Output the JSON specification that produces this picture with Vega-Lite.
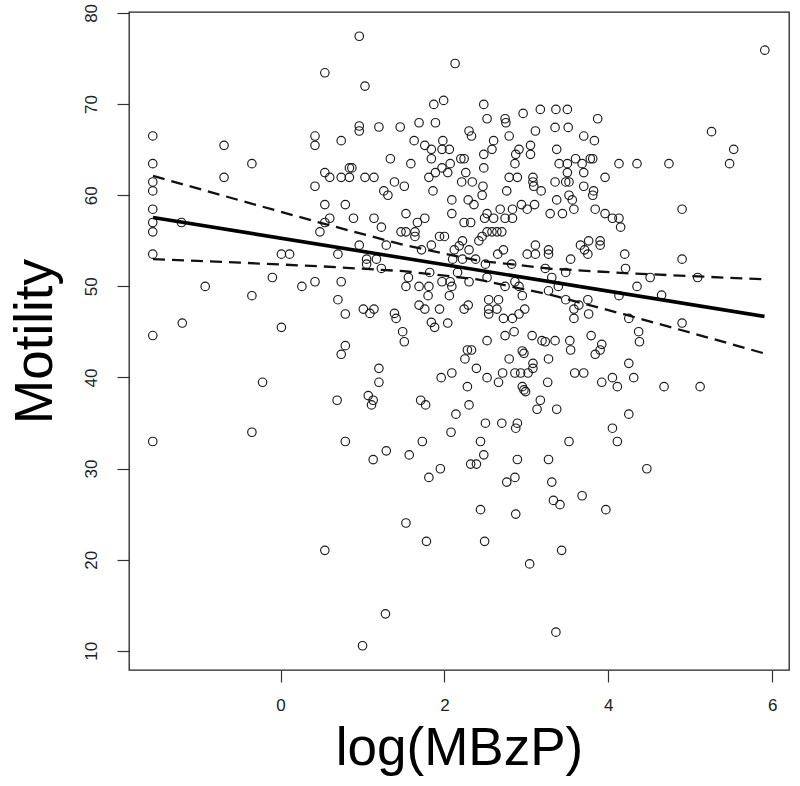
{
  "$schema": "https://vega.github.io/schema/vega-lite/v6.json",
  "width": 660,
  "height": 658,
  "autosize": {"type": "none"},
  "padding": {"left": 129, "top": 12, "right": 11, "bottom": 116},
  "background": "white",
  "config": {
    "view": {"stroke": "#222", "strokeWidth": 1.3},
    "font": "Liberation Sans",
    "axis": {"grid": false, "domain": false, "tickSize": 12, "tickColor": "#333", "tickWidth": 1.2, "labelFont": "Liberation Sans", "labelFontSize": 17, "labelColor": "#222", "titleFont": "Liberation Sans", "titleFontWeight": "normal", "titleColor": "#000"}
  },
  "datasets": {
    "pts": [
{"x":-1.56,"y":66.5},{"x":-1.56,"y":63.46},{"x":-1.56,"y":61.45},{"x":-1.56,"y":60.47},{"x":-1.56,"y":58.46},{"x":-1.56,"y":57.0},{"x":-1.56,"y":55.98},{"x":-1.56,"y":53.53},{"x":-1.56,"y":44.6},
{"x":0.96,"y":77.44},{"x":0.54,"y":73.43},{"x":1.03,"y":71.97},{"x":2.13,"y":74.45},{"x":1.87,"y":69.96},{"x":1.99,"y":70.4},{"x":-0.69,"y":65.47},{"x":-0.35,"y":63.46},{"x":-0.69,"y":61.96},
{"x":0.42,"y":66.49},{"x":0.42,"y":65.47},{"x":0.74,"y":65.98},{"x":0.96,"y":67.59},{"x":0.96,"y":67.04},{"x":1.2,"y":67.48},{"x":1.46,"y":67.48},{"x":1.69,"y":67.95},{"x":1.89,"y":67.95},
{"x":1.63,"y":65.98},{"x":1.76,"y":65.47},{"x":1.84,"y":65.03},{"x":1.97,"y":65.03},{"x":2.06,"y":65.03},{"x":1.84,"y":64.0},{"x":1.98,"y":65.98},{"x":1.34,"y":64.0},{"x":1.59,"y":63.46},
{"x":2.07,"y":63.46},{"x":1.97,"y":62.99},{"x":1.89,"y":62.48},{"x":2.04,"y":62.48},{"x":1.81,"y":61.96},{"x":0.84,"y":62.99},{"x":0.87,"y":62.99},{"x":0.54,"y":62.48},{"x":0.6,"y":61.96},
{"x":0.74,"y":61.96},{"x":0.84,"y":61.96},{"x":1.03,"y":61.96},{"x":1.14,"y":61.96},{"x":1.39,"y":61.45},{"x":1.51,"y":60.98},{"x":0.42,"y":60.98},{"x":1.26,"y":60.47},{"x":1.31,"y":59.99},
{"x":1.86,"y":60.47},{"x":2.09,"y":59.48},{"x":2.09,"y":57.98},{"x":0.54,"y":58.97},{"x":0.79,"y":58.97},{"x":1.53,"y":57.98},{"x":0.6,"y":57.47},{"x":0.89,"y":57.47},{"x":1.14,"y":57.47},
{"x":1.76,"y":57.47},{"x":0.54,"y":57.0},{"x":1.23,"y":56.49},{"x":1.67,"y":57.0},{"x":0.48,"y":55.98},{"x":1.47,"y":55.98},{"x":1.53,"y":55.98},{"x":1.64,"y":55.98},{"x":1.64,"y":55.47},
{"x":1.94,"y":55.47},{"x":2.0,"y":55.47},{"x":-1.21,"y":57.0},{"x":0.96,"y":54.52},{"x":1.29,"y":54.52},{"x":1.84,"y":54.52},{"x":1.72,"y":54.0},{"x":2.12,"y":54.0},{"x":0.01,"y":53.53},
{"x":0.11,"y":53.53},{"x":0.7,"y":53.53},{"x":1.05,"y":52.98},{"x":1.17,"y":52.98},{"x":1.05,"y":52.43},{"x":1.23,"y":51.96},{"x":2.1,"y":52.98},{"x":1.82,"y":51.52},{"x":-0.1,"y":50.97},
{"x":-0.92,"y":49.99},{"x":-0.35,"y":48.97},{"x":0.26,"y":49.99},{"x":0.42,"y":50.5},{"x":0.74,"y":50.5},{"x":1.56,"y":50.97},{"x":1.53,"y":49.99},{"x":1.69,"y":49.99},{"x":1.81,"y":49.99},
{"x":1.97,"y":50.5},{"x":2.07,"y":50.5},{"x":2.09,"y":49.99},{"x":2.06,"y":48.97},{"x":1.8,"y":48.97},{"x":0.7,"y":48.53},{"x":1.69,"y":47.94},{"x":1.76,"y":47.5},{"x":1.94,"y":47.5},
{"x":1.01,"y":47.5},{"x":1.14,"y":47.5},{"x":1.09,"y":47.03},{"x":0.79,"y":46.96},{"x":1.39,"y":47.03},{"x":1.41,"y":46.48},{"x":1.84,"y":46.05},{"x":1.88,"y":45.5},{"x":2.04,"y":45.97},
{"x":-1.2,"y":45.97},{"x":0.01,"y":45.5},{"x":1.49,"y":45.02},
{"x":0.79,"y":43.49},{"x":0.74,"y":42.54},{"x":1.51,"y":43.92},{"x":1.2,"y":41.0},{"x":1.2,"y":39.47},{"x":-0.22,"y":39.47},{"x":0.69,"y":37.5},{"x":1.07,"y":38.01},{"x":1.13,"y":37.5},
{"x":1.11,"y":36.99},{"x":1.71,"y":37.5},{"x":1.77,"y":36.99},{"x":1.96,"y":39.98},{"x":2.09,"y":40.49},{"x":2.14,"y":35.97},{"x":2.08,"y":33.99},{"x":-0.35,"y":33.99},{"x":-1.56,"y":32.97},
{"x":0.79,"y":32.97},{"x":1.29,"y":31.95},{"x":1.13,"y":30.99},{"x":1.57,"y":31.5},{"x":1.73,"y":32.97},{"x":1.95,"y":29.98},{"x":1.81,"y":29.03},{"x":1.53,"y":24.03},{"x":1.78,"y":22.02},
{"x":0.54,"y":21.03},{"x":1.28,"y":14.06},{"x":1.0,"y":10.56},
{"x":5.91,"y":75.91},{"x":2.48,"y":69.96},{"x":2.52,"y":68.39},{"x":2.74,"y":68.39},{"x":2.75,"y":67.95},{"x":2.96,"y":68.97},{"x":3.17,"y":69.41},{"x":3.36,"y":69.41},{"x":3.5,"y":69.41},
{"x":3.87,"y":68.39},{"x":3.35,"y":67.44},{"x":3.51,"y":67.44},{"x":2.3,"y":67.04},{"x":2.33,"y":66.49},{"x":3.11,"y":67.04},{"x":2.79,"y":66.49},{"x":2.6,"y":65.98},{"x":2.58,"y":65.03},
{"x":3.05,"y":65.47},{"x":3.7,"y":66.49},{"x":3.83,"y":65.98},{"x":3.37,"y":65.03},{"x":2.91,"y":65.03},{"x":2.87,"y":64.48},{"x":3.05,"y":64.48},{"x":2.48,"y":64.48},{"x":2.2,"y":64.0},
{"x":2.24,"y":64.0},{"x":2.86,"y":63.46},{"x":3.4,"y":63.46},{"x":3.5,"y":63.46},{"x":3.6,"y":64.0},{"x":3.68,"y":63.46},{"x":3.78,"y":64.0},{"x":3.81,"y":64.0},{"x":4.13,"y":63.46},
{"x":4.35,"y":63.46},{"x":4.74,"y":63.46},{"x":5.26,"y":66.97},{"x":5.53,"y":65.03},{"x":5.48,"y":63.46},{"x":2.48,"y":62.99},{"x":2.26,"y":62.48},{"x":3.5,"y":62.48},{"x":3.7,"y":62.48},
{"x":2.21,"y":61.45},{"x":2.34,"y":61.45},{"x":2.47,"y":60.98},{"x":2.46,"y":59.99},{"x":2.79,"y":61.96},{"x":2.89,"y":61.96},{"x":3.08,"y":61.96},{"x":3.08,"y":61.45},{"x":3.09,"y":60.98},
{"x":3.18,"y":60.47},{"x":2.76,"y":60.47},{"x":3.35,"y":61.45},{"x":3.48,"y":61.45},{"x":3.52,"y":61.45},{"x":3.96,"y":61.96},{"x":3.7,"y":60.98},{"x":3.82,"y":60.47},{"x":3.81,"y":59.99},
{"x":2.29,"y":59.48},{"x":2.36,"y":58.97},{"x":3.52,"y":59.99},{"x":3.56,"y":59.48},{"x":3.37,"y":59.48},{"x":3.58,"y":58.46},{"x":3.29,"y":57.98},{"x":3.44,"y":57.98},{"x":3.1,"y":58.97},
{"x":3.01,"y":58.46},{"x":2.94,"y":58.97},{"x":2.83,"y":58.46},{"x":2.68,"y":58.46},{"x":2.52,"y":57.98},{"x":2.49,"y":57.47},{"x":2.6,"y":57.47},{"x":2.74,"y":57.47},{"x":2.83,"y":57.47},
{"x":2.24,"y":57.0},{"x":2.32,"y":57.0},{"x":3.84,"y":58.46},{"x":3.96,"y":57.98},{"x":4.05,"y":57.47},{"x":4.13,"y":57.47},{"x":4.15,"y":56.49},{"x":4.9,"y":58.46},{"x":2.52,"y":55.98},
{"x":2.58,"y":55.98},{"x":2.64,"y":55.98},{"x":2.7,"y":55.98},{"x":2.46,"y":55.47},{"x":2.42,"y":54.99},{"x":2.22,"y":54.99},{"x":2.18,"y":54.44},{"x":2.3,"y":54.0},{"x":2.65,"y":53.53},
{"x":2.72,"y":54.0},{"x":3.01,"y":53.53},{"x":3.11,"y":54.52},{"x":3.11,"y":53.53},{"x":3.27,"y":54.0},{"x":3.27,"y":53.53},{"x":3.66,"y":54.52},{"x":3.71,"y":54.0},{"x":3.76,"y":54.99},
{"x":3.9,"y":54.99},{"x":3.9,"y":54.52},{"x":3.75,"y":53.53},{"x":4.2,"y":53.53},{"x":4.9,"y":52.98},{"x":3.54,"y":52.98},{"x":2.82,"y":52.43},{"x":2.38,"y":52.98},{"x":2.22,"y":52.98},
{"x":2.5,"y":52.43},{"x":3.23,"y":51.96},{"x":3.31,"y":50.97},{"x":3.48,"y":51.52},{"x":4.21,"y":51.96},{"x":4.51,"y":50.97},{"x":5.09,"y":50.97},{"x":2.16,"y":51.52},{"x":2.3,"y":50.5},
{"x":2.52,"y":50.97},{"x":2.74,"y":49.99},{"x":2.86,"y":50.5},{"x":2.91,"y":49.99},{"x":2.95,"y":48.97},{"x":3.27,"y":49.51},{"x":3.39,"y":49.99},{"x":4.35,"y":49.99},{"x":4.13,"y":48.97},
{"x":4.65,"y":49.04},{"x":3.48,"y":48.53},{"x":3.75,"y":48.53},{"x":3.64,"y":47.94},{"x":3.58,"y":47.5},{"x":3.58,"y":46.48},{"x":3.76,"y":46.96},{"x":2.24,"y":47.5},{"x":2.29,"y":47.94},
{"x":2.54,"y":48.53},{"x":2.66,"y":48.53},{"x":2.54,"y":47.5},{"x":2.54,"y":46.96},{"x":2.64,"y":47.5},{"x":2.72,"y":46.48},{"x":2.83,"y":46.48},{"x":2.91,"y":46.96},{"x":2.98,"y":47.5},
{"x":4.25,"y":46.48},{"x":4.9,"y":45.97},{"x":4.37,"y":45.02},{"x":2.74,"y":44.59},{"x":2.85,"y":45.02},{"x":2.52,"y":44.04},{"x":3.07,"y":44.59},{"x":3.19,"y":44.04},{"x":3.35,"y":44.04},
{"x":3.53,"y":44.04},{"x":3.79,"y":44.59},
{"x":3.23,"y":43.92},{"x":3.92,"y":43.63},{"x":4.38,"y":43.92},{"x":2.28,"y":43.01},{"x":2.33,"y":43.01},{"x":2.95,"y":42.9},{"x":2.97,"y":42.65},{"x":3.54,"y":43.01},{"x":3.84,"y":42.54},
{"x":3.9,"y":43.01},{"x":2.25,"y":42.03},{"x":2.39,"y":41.0},{"x":2.79,"y":42.03},{"x":3.27,"y":42.03},{"x":3.08,"y":41.55},{"x":3.08,"y":41.0},{"x":4.25,"y":41.55},{"x":2.52,"y":39.98},
{"x":2.66,"y":39.47},{"x":2.71,"y":40.49},{"x":2.86,"y":40.49},{"x":2.93,"y":40.49},{"x":3.02,"y":40.49},{"x":3.59,"y":40.49},{"x":3.7,"y":40.49},{"x":3.26,"y":39.47},{"x":3.92,"y":39.47},
{"x":4.05,"y":39.98},{"x":4.11,"y":38.99},{"x":4.31,"y":39.98},{"x":4.68,"y":38.99},{"x":5.12,"y":38.99},{"x":2.28,"y":38.99},{"x":2.95,"y":38.99},{"x":2.97,"y":38.63},{"x":2.99,"y":38.45},
{"x":3.17,"y":37.5},{"x":3.13,"y":36.51},{"x":3.37,"y":36.51},{"x":2.3,"y":36.99},{"x":4.25,"y":35.97},{"x":2.5,"y":34.98},{"x":2.7,"y":34.98},{"x":2.89,"y":34.98},{"x":2.87,"y":34.43},
{"x":4.05,"y":34.43},{"x":2.44,"y":32.97},{"x":3.52,"y":32.97},{"x":4.11,"y":32.97},{"x":2.48,"y":31.51},{"x":2.32,"y":30.49},{"x":2.39,"y":30.49},{"x":2.89,"y":31.0},{"x":3.27,"y":31.0},
{"x":4.47,"y":29.98},{"x":2.86,"y":29.03},{"x":2.76,"y":28.52},{"x":3.31,"y":28.52},{"x":3.68,"y":27.02},{"x":3.33,"y":26.51},{"x":3.41,"y":26.04},{"x":3.97,"y":25.49},{"x":2.44,"y":25.49},
{"x":2.87,"y":25.01},{"x":2.49,"y":22.02},{"x":3.43,"y":21.03},{"x":3.04,"y":19.54},{"x":3.36,"y":12.05}
    ],
    "fit": [
      {"x": -1.557, "y": 57.55},
      {"x": 5.906, "y": 46.7}
    ],
    "band": [
      {"band": "upper", "x": -1.557, "y": 62.12},
      {"band": "upper", "x": -0.5, "y": 59.44},
      {"band": "upper", "x": 0.5, "y": 56.93},
      {"band": "upper", "x": 1.5, "y": 54.55},
      {"band": "upper", "x": 2.4, "y": 52.83},
      {"band": "upper", "x": 3.3, "y": 51.93},
      {"band": "upper", "x": 4.2, "y": 51.45},
      {"band": "upper", "x": 5.0, "y": 51.12},
      {"band": "upper", "x": 5.906, "y": 50.77},
      {"band": "lower", "x": -1.557, "y": 52.98},
      {"band": "lower", "x": -0.5, "y": 52.6},
      {"band": "lower", "x": 0.5, "y": 52.19},
      {"band": "lower", "x": 1.5, "y": 51.67},
      {"band": "lower", "x": 2.4, "y": 50.77},
      {"band": "lower", "x": 3.3, "y": 49.05},
      {"band": "lower", "x": 4.2, "y": 46.91},
      {"band": "lower", "x": 5.0, "y": 44.92},
      {"band": "lower", "x": 5.906, "y": 42.63}
    ]
  },
  "encoding": {
    "x": {
      "field": "x", "type": "quantitative",
      "scale": {"domain": [-1.85, 6.205], "nice": false, "zero": false},
      "axis": {"values": [0, 2, 4, 6], "title": "log(MBzP)", "titleFontSize": 53, "labelPadding": 15, "titleAnchor": "middle", "titleBaseline": "alphabetic", "titleY": 94}
    },
    "y": {
      "field": "y", "type": "quantitative",
      "scale": {"domain": [7.9, 80.1], "nice": false, "zero": false},
      "axis": {"values": [10, 20, 30, 40, 50, 60, 70, 80], "title": "Motility", "titleFontSize": 53, "labelAngle": -90, "labelAlign": "center", "labelBaseline": "bottom", "labelPadding": 17, "titleAngle": -90, "titleBaseline": "alphabetic", "titleX": -78}
    }
  },
  "layer": [
    {
      "data": {"name": "pts"},
      "mark": {"type": "point", "shape": "circle", "filled": false, "size": 72, "stroke": "#1a1a1a", "strokeWidth": 1.15, "opacity": 1}
    },
    {
      "data": {"name": "fit"},
      "mark": {"type": "line", "color": "black", "strokeWidth": 3.6}
    },
    {
      "data": {"name": "band"},
      "mark": {"type": "line", "color": "#111", "strokeWidth": 2.3, "strokeDash": [12, 7]},
      "encoding": {"detail": {"field": "band", "type": "nominal"}}
    }
  ]
}
